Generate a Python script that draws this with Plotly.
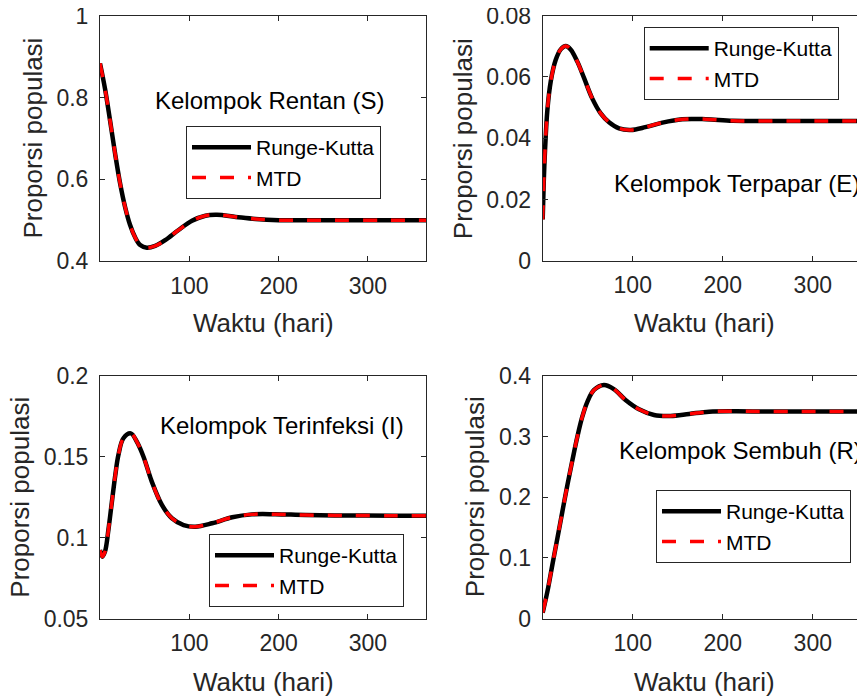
import plotly.graph_objects as go

# The page body adds an 8px margin, so the figure is drawn 8px in from the
# window's top-left corner; positions below are given in window pixels.
OFF = 8
W, H = 865 - OFF, 696 - OFF
FONT = "Liberation Sans, Arial, Helvetica, sans-serif"

# ---------------- data ----------------
series_names = ["Runge-Kutta", "MTD"]
panel_titles = ["Kelompok Rentan (S)", "Kelompok Terpapar (E)",
                "Kelompok Terinfeksi (I)", "Kelompok Sembuh (R)"]
x_title = "Waktu (hari)"
y_title = "Proporsi populasi"
x_tickvals = [100, 200, 300]

t_S = [0, 5.6, 11.2, 16.9, 22.5, 28, 33.7, 39.3, 45, 52.4, 61.8, 73, 88, 103,
       118, 131, 152, 174, 200, 230, 270, 320, 365]
S_vals = [0.884, 0.822, 0.745, 0.663, 0.590, 0.533, 0.488, 0.458, 0.439, 0.4326,
          0.437, 0.451, 0.476, 0.4986, 0.511, 0.513, 0.508, 0.503, 0.500, 0.4995,
          0.4997, 0.4998, 0.4998]

t_E = [0, 1.2, 2.6, 5.2, 8.9, 14.4, 20, 25.6, 31, 38.5, 46, 55, 64.4, 73.7, 84.8,
       97.8, 114, 133, 155, 181, 211, 250, 300, 365]
E_vals = [0.0135, 0.026, 0.0361, 0.0492, 0.0585, 0.0655, 0.069, 0.0701, 0.069,
          0.065, 0.0596, 0.053, 0.0481, 0.0452, 0.0432, 0.0427, 0.0436, 0.0451,
          0.0462, 0.0462, 0.0457, 0.0456, 0.0456, 0.0456]

t_I = [0, 2.6, 5.6, 9.4, 13.1, 16.9, 20.6, 26.2, 34.5, 41.2, 48.7, 58, 69.3, 80.5,
       93.6, 106.7, 125.5, 148, 170, 196, 230, 280, 330, 365]
I_vals = [0.0924, 0.0883, 0.0914, 0.1048, 0.1212, 0.1377, 0.151, 0.1614, 0.1644,
          0.1593, 0.150, 0.1346, 0.1202, 0.112, 0.1078, 0.1068, 0.1089, 0.1126,
          0.1144, 0.1145, 0.114, 0.1137, 0.1136, 0.1136]

t_R = [0, 5.2, 10.7, 16.3, 21.8, 27.4, 33, 38.5, 44, 49.6, 57, 68, 79, 92, 107,
       123.7, 142, 162.6, 184.8, 214, 250, 300, 365]
R_vals = [0.010, 0.0445, 0.0884, 0.1323, 0.176, 0.22, 0.261, 0.2996, 0.3325, 0.357,
          0.3765, 0.3847, 0.378, 0.36, 0.3447, 0.3353, 0.3337, 0.337, 0.3408,
          0.3415, 0.341, 0.341, 0.341]

y_tickvals_S = [0.4, 0.6, 0.8, 1.0]
y_ticktext_S = ["0.4", "0.6", "0.8", "1"]
y_tickvals_E = [0, 0.02, 0.04, 0.06, 0.08]
y_ticktext_E = ["0", "0.02", "0.04", "0.06", "0.08"]
y_tickvals_I = [0.05, 0.1, 0.15, 0.2]
y_ticktext_I = ["0.05", "0.1", "0.15", "0.2"]
y_tickvals_R = [0, 0.1, 0.2, 0.3, 0.4]
y_ticktext_R = ["0", "0.1", "0.2", "0.3", "0.4"]

y_range_S = [0.4, 1.0]
y_range_E = [0, 0.08]
y_range_I = [0.05, 0.2]
y_range_R = [0, 0.4]

# ---------------- layout helpers ----------------
def px(x):
    return (x - OFF) / W


def py(y):
    return (H - (y - OFF)) / H


panels = [
    dict(t=t_S, v=S_vals, yr=y_range_S, tv=y_tickvals_S, tt=y_ticktext_S,
         xd=[100, 426], yd=[16, 261], xr=[0, 365], mirror_y="ticks",
         ytitle_x=33, xtitle_x=263, xtitle_y=323,
         ann=(269, 100), leg=(186, 126)),
    dict(t=t_E, v=E_vals, yr=y_range_E, tv=y_tickvals_E, tt=y_ticktext_E,
         xd=[542.7, 865], yd=[15.7, 260.7], xr=[0, 358], mirror_y=False,
         ytitle_x=463, xtitle_x=704, xtitle_y=323,
         ann=(737, 183), leg=(643.7, 27)),
    dict(t=t_I, v=I_vals, yr=y_range_I, tv=y_tickvals_I, tt=y_ticktext_I,
         xd=[100, 426], yd=[375.7, 618.7], xr=[0, 365], mirror_y="ticks",
         ytitle_x=20.5, xtitle_x=263, xtitle_y=682,
         ann=(281.5, 425.5), leg=(209, 534)),
    dict(t=t_R, v=R_vals, yr=y_range_R, tv=y_tickvals_R, tt=y_ticktext_R,
         xd=[542.7, 865], yd=[375.7, 618.7], xr=[0, 358], mirror_y=False,
         ytitle_x=475, xtitle_x=704, xtitle_y=682,
         ann=(740, 450), leg=(656, 490)),
]

AX = "#262626"
fig = go.Figure()
layout = dict(width=W, height=H,
              margin=dict(l=0, r=0, t=0, b=0, pad=0, autoexpand=False),
              paper_bgcolor="white", plot_bgcolor="white",
              font=dict(family=FONT, color=AX), showlegend=True)
annotations = []

for i, p in enumerate(panels):
    k = i + 1
    xa = "x" if k == 1 else f"x{k}"
    ya = "y" if k == 1 else f"y{k}"
    leg = "legend" if k == 1 else f"legend{k}"
    fig.add_trace(go.Scatter(x=p["t"], y=p["v"], mode="lines", name=series_names[0],
                             line=dict(color="black", width=4.5, shape="spline"),
                             xaxis=xa, yaxis=ya, legend=leg, legendgroup=f"a{k}"))
    fig.add_trace(go.Scatter(x=p["t"], y=p["v"], mode="lines", name=series_names[1],
                             line=dict(color="#ff0000", width=3.5, shape="spline",
                                       dash="14px,14px"),
                             xaxis=xa, yaxis=ya, legend=leg, legendgroup=f"b{k}"))
    common = dict(showline=True, linecolor=AX, linewidth=1, ticks="inside",
                  ticklen=5, tickcolor=AX, tickwidth=1, showgrid=False,
                  zeroline=False, automargin=False, ticklabeloverflow="allow",
                  tickfont=dict(size=23, color=AX, family=FONT))
    layout["xaxis" if k == 1 else f"xaxis{k}"] = dict(
        common, domain=[px(p["xd"][0]), min(1.0, px(p["xd"][1]))], range=p["xr"],
        anchor=ya, tickvals=x_tickvals, mirror="ticks", ticklabelstandoff=4)
    layout["yaxis" if k == 1 else f"yaxis{k}"] = dict(
        common, domain=[py(p["yd"][1]), py(p["yd"][0])], range=p["yr"],
        anchor=xa, tickvals=p["tv"], ticktext=p["tt"], mirror=p["mirror_y"],
        ticklabelstandoff=6)
    layout[leg] = dict(x=px(p["leg"][0]), y=py(p["leg"][1]), xanchor="left",
                       yanchor="top", bgcolor="white", bordercolor=AX,
                       borderwidth=1, font=dict(size=21, color="black", family=FONT),
                       itemwidth=59, tracegroupgap=0)
    # axis titles
    annotations.append(dict(text=y_title, x=px(p["ytitle_x"]),
                            y=py((p["yd"][0] + p["yd"][1]) / 2), xref="paper",
                            yref="paper", textangle=-90, showarrow=False,
                            xanchor="center", yanchor="middle",
                            font=dict(size=26, color=AX, family=FONT)))
    annotations.append(dict(text=x_title, x=px(p["xtitle_x"]), y=py(p["xtitle_y"]),
                            xref="paper", yref="paper", showarrow=False,
                            xanchor="center", yanchor="middle",
                            font=dict(size=26, color=AX, family=FONT)))
    annotations.append(dict(text=panel_titles[i], x=px(p["ann"][0]), y=py(p["ann"][1]),
                            xref="paper", yref="paper", showarrow=False,
                            xanchor="center", yanchor="middle",
                            font=dict(size=24, color="black", family=FONT)))

layout["annotations"] = annotations
fig.update_layout(**layout)
fig.write_html("out.html")
